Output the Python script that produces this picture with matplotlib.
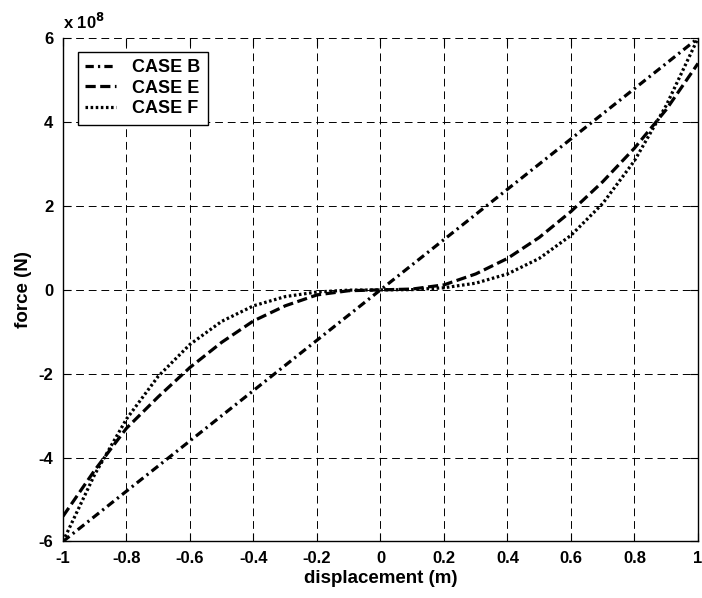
import matplotlib
matplotlib.use('Agg')
import matplotlib.pyplot as plt
from matplotlib.ticker import FuncFormatter

# displacement (m) and force (N)
disp = [-1.0, -0.9, -0.8, -0.7, -0.6, -0.5, -0.4, -0.3, -0.2, -0.1, 0.0,
        0.1, 0.2, 0.3, 0.4, 0.5, 0.6, 0.7, 0.8, 0.9, 1.0]
case_b = [-6.0e8, -5.4e8, -4.8e8, -4.2e8, -3.6e8, -3.0e8, -2.4e8, -1.8e8, -1.2e8, -0.6e8, 0.0,
          0.6e8, 1.2e8, 1.8e8, 2.4e8, 3.0e8, 3.6e8, 4.2e8, 4.8e8, 5.4e8, 6.0e8]
case_e = [-5.4e8, -4.3e8, -3.3e8, -2.55e8, -1.85e8, -1.25e8, -0.74e8, -0.38e8, -0.12e8, -0.02e8, 0.0,
          0.02e8, 0.12e8, 0.38e8, 0.75e8, 1.25e8, 1.87e8, 2.58e8, 3.38e8, 4.3e8, 5.4e8]
case_f = [-6.0e8, -4.4e8, -3.08e8, -2.06e8, -1.3e8, -0.75e8, -0.38e8, -0.16e8, -0.05e8, -0.006e8, 0.0,
          0.006e8, 0.05e8, 0.16e8, 0.38e8, 0.75e8, 1.3e8, 2.06e8, 3.08e8, 4.4e8, 6.0e8]
labels = ['CASE B', 'CASE E', 'CASE F']
xticks = [-1, -0.8, -0.6, -0.4, -0.2, 0, 0.2, 0.4, 0.6, 0.8, 1]
yticks = [-6e8, -4e8, -2e8, 0, 2e8, 4e8, 6e8]

plt.rcParams['font.family'] = ['Liberation Sans', 'DejaVu Sans']
plt.rcParams['font.weight'] = 'bold'
plt.rcParams['font.size'] = 12

fig = plt.figure(figsize=(7.02, 5.98), dpi=100)
ax = fig.add_axes([0.0897, 0.0945, 0.9046, 0.8415])

ax.plot(disp, case_b, color='k', lw=2.3, ls=(0, (2.6, 1.3, 0.7, 1.3)), label=labels[0])
ax.plot(disp, case_e, color='k', lw=2.3, ls=(0, (3.2, 1.4)), label=labels[1])
ax.plot(disp, case_f, color='k', lw=2.3, ls=(0, (0.8, 0.8)), label=labels[2])

ax.set_xlim(-1, 1)
ax.set_ylim(-6e8, 6e8)
ax.set_xticks(xticks)
ax.set_yticks(yticks)
ax.xaxis.set_major_formatter(FuncFormatter(lambda v, p: '%g' % round(v, 1)))
ax.yaxis.set_major_formatter(FuncFormatter(lambda v, p: '%g' % round(v / 1e8, 1)))
ax.tick_params(direction='in', length=6, width=0.8, top=True, right=True, pad=7,
               labelsize=12)
for lab in ax.get_xticklabels() + ax.get_yticklabels():
    lab.set_fontweight('bold')
ax.grid(True, color='k', lw=0.7, ls=(0, (8, 5)))
ax.spines['top'].set_visible(False)
for s in ['left', 'right', 'bottom']:
    ax.spines[s].set_linewidth(1.0)

ax.text(0.0, 1.012, 'x 10$^{\\mathbf{8}}$', transform=ax.transAxes, ha='left', va='bottom',
        fontsize=12, fontweight='bold')

ax.set_xlabel('displacement (m)', fontweight='bold', fontsize=13.5, labelpad=3)
ax.set_ylabel('force (N)', fontweight='bold', fontsize=13.5, labelpad=5)

leg = ax.legend(loc='upper left', bbox_to_anchor=(0.0236, 0.973), borderaxespad=0,
                fancybox=False, edgecolor='k', framealpha=1, handlelength=1.7,
                handletextpad=0.9, prop={'weight': 'bold', 'size': 13},
                labelspacing=0.2)
leg.get_frame().set_linewidth(1.0)

fig.savefig('out.png', dpi=100)
